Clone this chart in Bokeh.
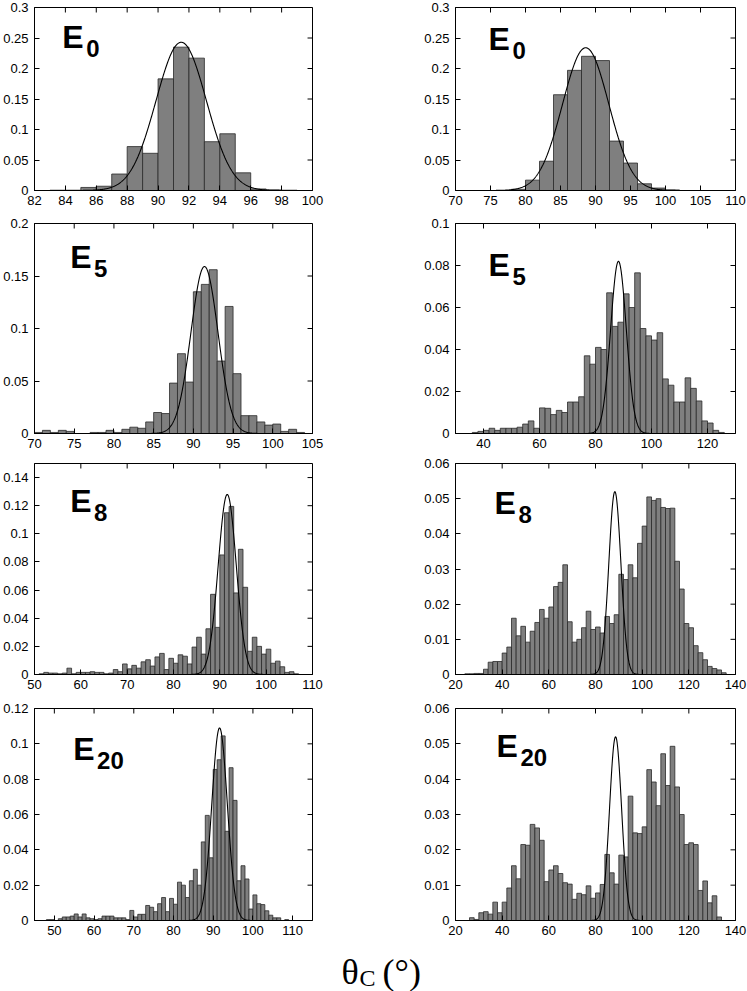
import numpy as np
from bokeh.plotting import figure
from bokeh.layouts import column, row
from bokeh.models import FixedTicker, Label, CustomJSTickFormatter, Range1d
from bokeh.embed import file_html
from bokeh.resources import INLINE

# ---------------- data (fractions per bin) ----------------
# E0, left column
e0_left_start = 83
e0_left_width = 1
e0_left_vals = [0.0005, 0.0005, 0.005, 0.007, 0.027, 0.072, 0.061, 0.183, 0.235, 0.217,
                0.080, 0.093, 0.029, 0.0025, 0.001, 0.0005]
# E0, right column
e0_right_start = 78
e0_right_width = 2
e0_right_vals = [0.002, 0.017, 0.048, 0.157, 0.197, 0.220, 0.213, 0.081, 0.045, 0.011, 0.004, 0.001]
# E5, left column
e5_left_start = 70
e5_left_width = 1
e5_left_vals = [0.001, 0.003, 0.001, 0.003, 0.002, 0.0, 0.0, 0.001, 0.001, 0.003,
                0.001, 0.004, 0.006, 0.005, 0.011, 0.020, 0.019, 0.048, 0.076, 0.049,
                0.135, 0.142, 0.156, 0.069, 0.121, 0.057, 0.017, 0.017, 0.011, 0.008,
                0.009, 0.002, 0.004, 0.001]
# E5, right column
e5_right_start = 36
e5_right_width = 2
e5_right_vals = [0.0005, 0.001, 0.0015, 0.0025, 0.0015, 0.0025, 0.0025, 0.0025, 0.003, 0.0045,
                 0.006, 0.0025, 0.0122, 0.012, 0.009, 0.011, 0.010, 0.015, 0.015, 0.0175,
                 0.037, 0.033, 0.041, 0.040, 0.067, 0.051, 0.053, 0.0665, 0.060, 0.0765,
                 0.050, 0.0465, 0.0445, 0.048, 0.026, 0.023, 0.015, 0.015, 0.0265, 0.0215,
                 0.0155, 0.006, 0.005, 0.0015, 0.0005]
# E8, left column
e8_left_start = 51
e8_left_width = 1
e8_left_vals = [0.0005, 0.0015, 0.001, 0.001, 0.0005, 0.001, 0.0045, 0.0005, 0.0015, 0.0015,
                0.0015, 0.002, 0.0015, 0.0015, 0.0005, 0.001, 0.0035, 0.002, 0.0075, 0.004,
                0.0065, 0.0045, 0.009, 0.0105, 0.006, 0.0125, 0.015, 0.0035, 0.0115, 0.008,
                0.014, 0.013, 0.0075, 0.0195, 0.0265, 0.0145, 0.0325, 0.057, 0.0335, 0.085,
                0.115, 0.1195, 0.058, 0.089, 0.062, 0.0165, 0.0265, 0.020, 0.0145, 0.018,
                0.008, 0.0095, 0.0055, 0.0015, 0.002, 0.0005]
# E8, right column
e8_right_start = 24
e8_right_width = 2
e8_right_vals = [0.0002, 0.0002, 0.0003, 0.0003, 0.0015, 0.0035, 0.0037, 0.0037, 0.0061, 0.0078,
                 0.016, 0.011, 0.0137, 0.0092, 0.0123, 0.0148, 0.0185, 0.016, 0.0192, 0.025,
                 0.0262, 0.0312, 0.015, 0.0092, 0.010, 0.0133, 0.018, 0.0128, 0.0135, 0.0118,
                 0.0165, 0.0145, 0.017, 0.0285, 0.027, 0.0312, 0.0275, 0.0373, 0.0422, 0.0505,
                 0.0495, 0.050, 0.0475, 0.0472, 0.0473, 0.0322, 0.0243, 0.0145, 0.0133, 0.0082,
                 0.0062, 0.0042, 0.0023, 0.0017, 0.0013, 0.0005]
# E20, left column
e20_left_start = 48
e20_left_width = 1
e20_left_vals = [0.0005, 0.0005, 0.0, 0.001, 0.002, 0.002, 0.0025, 0.0037, 0.002, 0.0037,
                 0.0015, 0.001, 0.0005, 0.001, 0.0025, 0.0025, 0.0025, 0.0015, 0.0015, 0.0015,
                 0.0005, 0.0057, 0.002, 0.0035, 0.0035, 0.0085, 0.0075, 0.005, 0.0095, 0.013,
                 0.005, 0.0125, 0.0092, 0.0217, 0.020, 0.013, 0.0225, 0.029, 0.020, 0.0445,
                 0.0595, 0.0355, 0.0855, 0.091, 0.1045, 0.0505, 0.0865, 0.068, 0.0225, 0.031,
                 0.0235, 0.0065, 0.0145, 0.0095, 0.009, 0.0055, 0.003, 0.0015, 0.0015, 0.0,
                 0.0005]
# E20, right column
e20_right_start = 26
e20_right_width = 2
e20_right_vals = [0.0008, 0.0003, 0.0022, 0.0025, 0.0018, 0.0052, 0.0022, 0.0052, 0.0092, 0.0155,
                  0.0118, 0.0215, 0.0213, 0.0272, 0.0262, 0.0227, 0.011, 0.0143, 0.0155, 0.0133,
                  0.0107, 0.0103, 0.006, 0.0077, 0.0073, 0.0098, 0.0063, 0.0078, 0.0102, 0.0187,
                  0.0135, 0.0103, 0.0185, 0.018, 0.0352, 0.0248, 0.0246, 0.0265, 0.0427, 0.0392,
                  0.0325, 0.0472, 0.0382, 0.0493, 0.0378, 0.030, 0.0215, 0.022, 0.0215, 0.0085,
                  0.0112, 0.005, 0.007, 0.001]

# Gaussian reference fits (amplitude, mean, sigma) per panel
fit_left = [(0.243, 91.5, 1.63), (0.159, 91.4, 1.7), (0.128, 91.6, 1.95), (0.109, 91.6, 1.95)]
fit_right = [(0.234, 88.6, 3.3), (0.082, 88.2, 2.8), (0.052, 88.3, 2.6), (0.052, 88.6, 2.6)]

# Axis ranges and ticks
xr_left = [(82, 100), (70, 105), (50, 110), (45, 115)]
xt_left = [[82, 84, 86, 88, 90, 92, 94, 96, 98, 100],
           [70, 75, 80, 85, 90, 95, 100, 105],
           [50, 60, 70, 80, 90, 100, 110],
           [50, 60, 70, 80, 90, 100, 110]]
yr_left = [(0, 0.3), (0, 0.2), (0, 0.15), (0, 0.12)]
yt_left = [[0, 0.05, 0.1, 0.15, 0.2, 0.25, 0.3],
           [0, 0.05, 0.1, 0.15, 0.2],
           [0, 0.02, 0.04, 0.06, 0.08, 0.1, 0.12, 0.14],
           [0, 0.02, 0.04, 0.06, 0.08, 0.1, 0.12]]
xr_right = [(70, 110), (30, 130), (20, 140), (20, 140)]
xt_right = [[70, 75, 80, 85, 90, 95, 100, 105, 110],
            [40, 60, 80, 100, 120],
            [20, 40, 60, 80, 100, 120, 140],
            [20, 40, 60, 80, 100, 120, 140]]
yr_right = [(0, 0.3), (0, 0.1), (0, 0.06), (0, 0.06)]
yt_right = [[0, 0.05, 0.1, 0.15, 0.2, 0.25, 0.3],
            [0, 0.02, 0.04, 0.06, 0.08, 0.1],
            [0, 0.01, 0.02, 0.03, 0.04, 0.05, 0.06],
            [0, 0.01, 0.02, 0.03, 0.04, 0.05, 0.06]]
subscripts = ["0", "5", "8", "20"]

# ---------------- layout constants (pixels) ----------------
LEFT_W, LEFT_B = 414, (32, 102)
RIGHT_W, RIGHT_B = 333, (41, 12)
ROW_H = [213, 243, 241, 246]
ROW_TOP = [7, 10, 7, 11]
ROW_BOT = 23
TICK = 5
label_off_left = [(30, 18), (38, 22), (38, 26), (41, 29)]
label_off_right = [(35, 20), (35, 30), (41, 28), (43, 26)]

FONT = "Liberation Sans"
fmt_code = "return String(parseFloat(tick.toFixed(4)));"


def make_panel(start, width, vals, fit, xr, xt, yr, yt, sub, off, fig_w, borders, fig_h, top_b):
    p = figure(width=fig_w, height=fig_h, x_range=Range1d(*xr), y_range=Range1d(*yr),
               toolbar_location=None, output_backend="svg", title=None,
               min_border_left=borders[0], min_border_right=borders[1],
               min_border_top=top_b, min_border_bottom=ROW_BOT)
    p.xgrid.visible = False
    p.ygrid.visible = False
    p.outline_line_color = "black"
    p.outline_line_width = 1
    p.background_fill_color = "white"
    p.border_fill_color = "white"

    fw = fig_w - borders[0] - borders[1]
    fh = fig_h - top_b - ROW_BOT
    xspan = xr[1] - xr[0]
    yspan = yr[1] - yr[0]

    vals = np.asarray(vals, dtype=float)
    lefts = start + width * np.arange(len(vals))
    p.quad(left=lefts, right=lefts + width, bottom=0, top=vals,
           fill_color="#7f7f7f", line_color="#2a2a2a", line_width=0.8)

    amp, mu, sig = fit
    xs = np.linspace(xr[0], xr[1], 800)
    ys = amp * np.exp(-0.5 * ((xs - mu) / sig) ** 2)
    p.line(xs, ys, line_color="black", line_width=1.1)

    fmt = CustomJSTickFormatter(code=fmt_code)
    for ax, ticks in ((p.xaxis[0], xt), (p.yaxis[0], yt)):
        ax.ticker = FixedTicker(ticks=ticks)
        ax.formatter = fmt
        ax.major_tick_in = TICK
        ax.major_tick_out = 0
        ax.minor_tick_line_color = None
        ax.axis_line_color = "black"
        ax.major_tick_line_color = "black"
        ax.major_label_text_font = FONT
        ax.major_label_text_font_size = "13px"
        ax.major_label_text_color = "black"
    p.xaxis[0].major_label_standoff = 5
    p.yaxis[0].major_label_standoff = 6

    # mirrored inward ticks on the top and right edges (gnuplot style)
    xt_arr = np.asarray(xt, dtype=float)
    yt_arr = np.asarray(yt, dtype=float)
    p.segment(x0=xt_arr, y0=np.full(len(xt_arr), yr[1]),
              x1=xt_arr, y1=np.full(len(xt_arr), yr[1] - TICK / fh * yspan),
              line_color="black", line_width=1)
    p.segment(x0=np.full(len(yt_arr), xr[1]), y0=yt_arr,
              x1=np.full(len(yt_arr), xr[1] - TICK / fw * xspan), y1=yt_arr,
              line_color="black", line_width=1)

    # panel label E_n: offsets (px) of the E's top-left ink from the frame's top-left
    dx, dy = off
    ex = xr[0] + (dx - 2) / fw * xspan
    ey = yr[1] - (dy + 11.5) / fh * yspan
    sx = xr[0] + (dx + 22) / fw * xspan
    sy = yr[1] - (dy + 23) / fh * yspan
    p.add_layout(Label(x=ex, y=ey, text="E", text_font=FONT, text_font_size="32px",
                       text_font_style="bold", text_color="black",
                       text_baseline="middle", text_align="left"))
    p.add_layout(Label(x=sx, y=sy, text=sub, text_font=FONT, text_font_size="24px",
                       text_font_style="bold", text_color="black",
                       text_baseline="middle", text_align="left"))
    return p


left_data = [(e0_left_start, e0_left_width, e0_left_vals),
             (e5_left_start, e5_left_width, e5_left_vals),
             (e8_left_start, e8_left_width, e8_left_vals),
             (e20_left_start, e20_left_width, e20_left_vals)]
right_data = [(e0_right_start, e0_right_width, e0_right_vals),
              (e5_right_start, e5_right_width, e5_right_vals),
              (e8_right_start, e8_right_width, e8_right_vals),
              (e20_right_start, e20_right_width, e20_right_vals)]

rows = []
for i in range(4):
    ls, lw, lv = left_data[i]
    rs, rw, rv = right_data[i]
    pl = make_panel(ls, lw, lv, fit_left[i], xr_left[i], xt_left[i], yr_left[i], yt_left[i],
                    subscripts[i], label_off_left[i], LEFT_W, LEFT_B, ROW_H[i], ROW_TOP[i])
    pr = make_panel(rs, rw, rv, fit_right[i], xr_right[i], xt_right[i], yr_right[i], yt_right[i],
                    subscripts[i], label_off_right[i], RIGHT_W, RIGHT_B, ROW_H[i], ROW_TOP[i])
    rows.append(row(pl, pr))

# bottom axis title: theta_C (deg)
TW, TH = 747, 48
pt = figure(width=TW, height=TH, x_range=Range1d(0, TW), y_range=Range1d(0, TH),
            toolbar_location=None, output_backend="svg", min_border=0,
            x_axis_type=None, y_axis_type=None)
pt.xgrid.visible = False
pt.ygrid.visible = False
pt.outline_line_color = None
SERIF = "Liberation Serif"
pt.add_layout(Label(x=341, y=20, text="θ", text_font=SERIF, text_font_size="36px",
                    text_color="black", text_baseline="middle"))
pt.add_layout(Label(x=359, y=14, text="C", text_font=SERIF, text_font_size="24px",
                    text_color="black", text_baseline="middle"))
pt.add_layout(Label(x=382, y=20, text="(°)", text_font=SERIF, text_font_size="36px",
                    text_color="black", text_baseline="middle"))

layout = column(*rows, pt)
open("out.html", "w").write(file_html(layout, INLINE))
